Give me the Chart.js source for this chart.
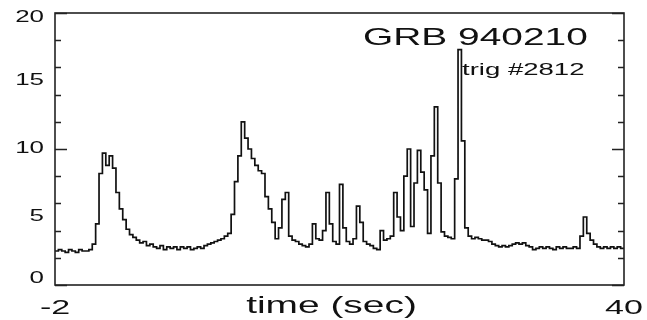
<!DOCTYPE html>
<html>
<head>
<meta charset="utf-8">
<title>GRB 940210</title>
<script src="https://cdn.jsdelivr.net/npm/chart.js@4.4.1/dist/chart.umd.min.js"></script>
<style>
  html, body { margin: 0; padding: 0; background: #fff; }
  #wrap { width: 647px; height: 320px; }
</style>
</head>
<body>
<div id="wrap"><canvas id="lightCurve" width="647" height="320"></canvas></div>
<script>
// light curve, 0.25 s bins starting at t = -2 s
const binStart = -2;
const binWidth = 0.25;
const counts = [
  2.5, 2.6, 2.5, 2.4, 2.6, 2.5, 2.4, 2.6, 2.5, 2.5, 2.6, 3.0,
  4.5, 8.2, 9.7, 8.8, 9.5, 8.6, 6.8, 5.6, 4.8, 4.1, 3.7, 3.5, 3.3, 3.1, 3.2, 2.9,
  3.0, 2.8, 2.7, 2.9, 2.6, 2.8, 2.7, 2.8, 2.6, 2.8, 2.7, 2.8, 2.6, 2.7, 2.8, 2.7,
  2.9, 3.0, 3.1, 3.2, 3.3, 3.4, 3.6, 3.8,
  5.2, 7.6, 9.5, 12.0, 10.8, 10.0, 9.3, 8.8, 8.4, 8.2, 6.5, 5.6, 4.6, 3.4, 4.2, 6.3, 6.8, 3.6,
  3.3, 3.2, 3.0, 2.9, 2.8, 3.0, 4.5, 3.4, 3.3, 4.0,
  6.8, 4.5, 3.2, 3.0, 7.4, 4.2, 3.2, 3.0, 3.4, 5.8,
  4.6, 3.2, 3.0, 2.9, 2.7, 2.6, 4.0, 3.3, 3.4, 3.6,
  6.8, 5.0, 4.0, 8.0, 10.0, 4.3, 7.5, 9.9, 8.3, 7.0,
  3.8, 9.5, 13.1, 7.5, 3.9, 3.6, 3.5, 3.4, 7.8, 17.3, 10.6, 4.2,
  3.6, 3.4, 3.5, 3.4, 3.3, 3.3, 3.2, 3.0, 2.9, 2.8,
  2.9, 2.8, 2.9, 3.0, 3.1, 3.0, 3.1, 2.9, 2.8, 2.6,
  2.7, 2.8, 2.7, 2.8, 2.7, 2.6, 2.8, 2.7, 2.8, 2.7, 2.7, 2.8, 2.7,
  3.6, 5.0, 3.8, 3.3, 3.0, 2.8, 2.7, 2.8, 2.7, 2.8, 2.7, 2.8, 2.7
];
const xRange = [-2, 40];
const yRange = [0, 20];
const yLabelTicks = [0, 5, 10, 15, 20];
const xLabelTicks = [-2, 40];
const titleText = 'GRB 940210';
const subText = 'trig #2812';
const xTitle = 'time (sec)';

// histogram points: left edge of each bin, plus the closing edge
const points = counts.map((c, i) => ({ x: binStart + i * binWidth, y: c }));
points.push({ x: binStart + counts.length * binWidth, y: counts[counts.length - 1] });

const INK = '#111';
const FONT = '"Liberation Sans", Arial, Helvetica, sans-serif';
const STRETCH = 1.62; // lettering is drawn wide

function wideText(ctx, text, x, y, size, align, baseline) {
  ctx.save();
  ctx.font = size + 'px ' + FONT;
  ctx.fillStyle = INK;
  ctx.textAlign = align;
  ctx.textBaseline = baseline;
  ctx.translate(x, y);
  ctx.scale(STRETCH, 1);
  ctx.fillText(text, 0, 0);
  ctx.restore();
}

// frame, inward ticks on both sides and all the lettering
const framePlugin = {
  id: 'frame',
  afterDraw(chart) {
    const ctx = chart.ctx;
    const a = chart.chartArea;
    const ys = chart.scales.y;
    const xs = chart.scales.x;

    ctx.save();
    ctx.strokeStyle = '#222';
    ctx.lineWidth = 1.6;
    ctx.strokeRect(a.left, a.top, a.right - a.left, a.bottom - a.top);

    ctx.lineWidth = 1.3;
    ys.ticks.forEach(t => {
      const py = Math.round(ys.getPixelForValue(t.value)) + 0.5;
      const len = t.value % 5 === 0 ? 12 : 6;
      ctx.beginPath();
      ctx.moveTo(a.left, py);
      ctx.lineTo(a.left + len, py);
      ctx.moveTo(a.right, py);
      ctx.lineTo(a.right - len, py);
      ctx.stroke();
    });
    ctx.restore();

    // y labels, the end ones kept inside the frame
    yLabelTicks.forEach(v => {
      let py = ys.getPixelForValue(v);
      py = Math.min(Math.max(py, a.top + 5), a.bottom - 6);
      wideText(ctx, String(v), a.left - 11, py, 16, 'right', 'middle');
    });

    xLabelTicks.forEach(v => {
      wideText(ctx, String(v), xs.getPixelForValue(v), 308, 21, 'center', 'middle');
    });

    wideText(ctx, xTitle, (a.left + a.right) / 2 - 8, 313, 24, 'center', 'alphabetic');
    wideText(ctx, titleText, 363, 45, 24, 'left', 'alphabetic');
    wideText(ctx, subText, 462, 75, 17, 'left', 'alphabetic');
  }
};

new Chart(document.getElementById('lightCurve'), {
  type: 'line',
  data: {
    datasets: [{
      data: points,
      stepped: true,
      borderColor: INK,
      borderWidth: 1.7,
      pointRadius: 0,
      fill: false,
      tension: 0
    }]
  },
  options: {
    responsive: false,
    animation: false,
    devicePixelRatio: 1,
    layout: { padding: { left: 55, right: 23, top: 13, bottom: 35 } },
    plugins: {
      legend: { display: false },
      tooltip: { enabled: false }
    },
    scales: {
      x: { type: 'linear', display: false, min: xRange[0], max: xRange[1] },
      y: { type: 'linear', display: false, min: yRange[0], max: yRange[1], ticks: { stepSize: 1 } }
    }
  },
  plugins: [framePlugin]
});
</script>
</body>
</html>
